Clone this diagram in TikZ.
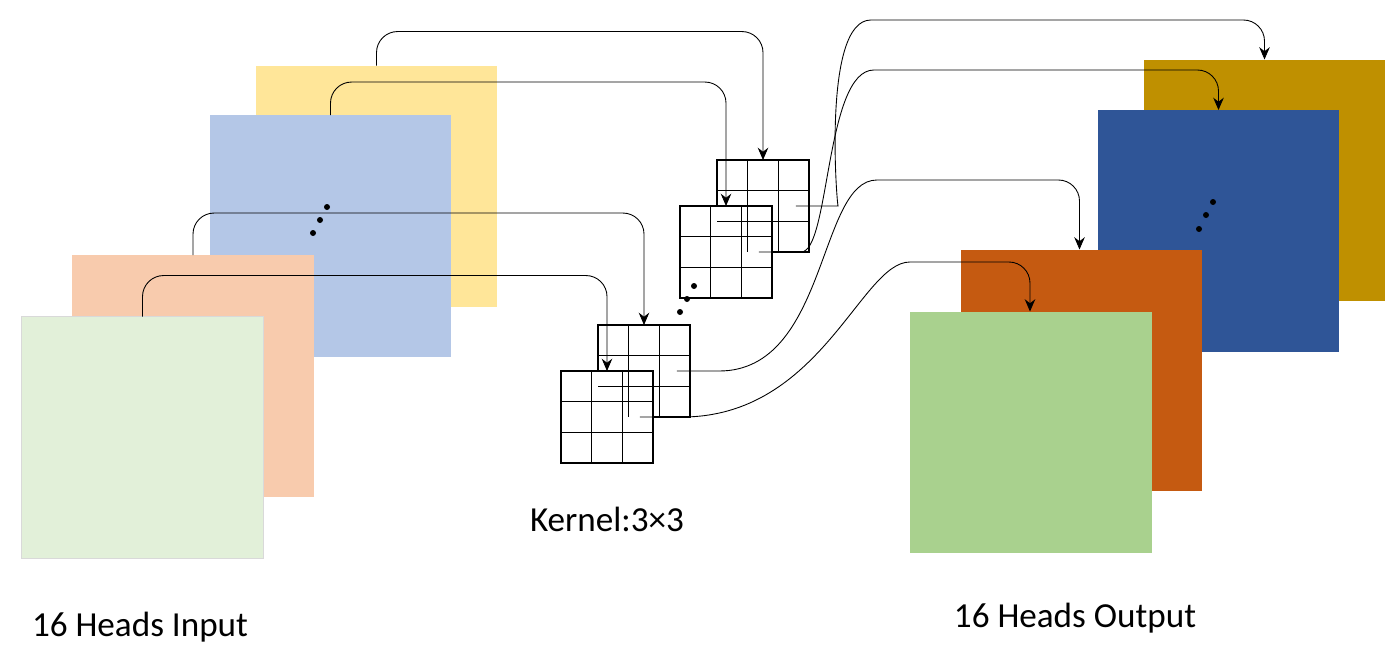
\documentclass[tikz,border=0pt]{standalone}
\usepackage{fontspec}
\setmainfont{Carlito}
\usetikzlibrary{arrows.meta,calc}
\definecolor{cYellow}{HTML}{FFE699}
\definecolor{cBlueL}{HTML}{B4C7E7}
\definecolor{cSalmon}{HTML}{F8CBAD}
\definecolor{cGreenL}{HTML}{E2F0D9}
\definecolor{cGold}{HTML}{BF9000}
\definecolor{cBlueD}{HTML}{2F5597}
\definecolor{cOrange}{HTML}{C55A11}
\definecolor{cGreen}{HTML}{A9D18E}
\tikzset{
  head/.style={minimum size=4.84cm, inner sep=0pt, outer sep=0pt, fill=#1},
  kernel/.style={draw, fill=white, line width=0.6pt, minimum size=1.84cm, inner sep=0pt, outer sep=0pt},
  arr/.style={-{Stealth[length=7pt,width=6pt]}, line width=0.5pt, rounded corners=12},
  caption/.style={font=\fontsize{20}{24}\selectfont}
}
\begin{document}
\begin{tikzpicture}[x=0.02cm,y=-0.02cm]
        \useasboundingbox (0,0) rectangle (1400,656);
        % Input heads
        \node[head=cYellow] (in1) at (376.5,186.5) {};
        \node[head=cBlueL] (in2) at (330.5,236) {};
        \node[head=cSalmon] (in3) at (193,376) {};
        \node[head=cGreenL, draw=black!15] (in4) at (142.5,437.5) {};
        % Output heads
        \node[head=cGold] (out1) at (1264.5,180.5) {};
        \node[head=cBlueD] (out2) at (1218.5,231) {};
        \node[head=cOrange] (out3) at (1081.5,370.5) {};
        \node[head=cGreen] (out4) at (1031,432.5) {};
        % Kernels
        \node[kernel] (k1) at (763,206) {};
        \node[kernel] (k2) at (726,252) {};
        \node[kernel] (k3) at (644,371) {};
        \node[kernel] (k4) at (607,417) {};
        \foreach \k in {k1,k2,k3,k4}
            \foreach \t in {1,2} {
                \draw[line width=0.6pt] ($(\k.north west)!\t/3!(\k.north east)$) -- ($(\k.south west)!\t/3!(\k.south east)$);
                \draw[line width=0.6pt] ($(\k.north west)!\t/3!(\k.south west)$) -- ($(\k.north east)!\t/3!(\k.south east)$);
            }
        % Dots
        \foreach \x/\y in {313/233,320/220,327/207,680/312,687/299,694/286,1199/229,1206/215,1213/202}
            \fill (\x,\y) circle (3);
        % Input to kernels
        \draw[arr] ([xshift=2.42cm]in1.north west) -- ++(0,-34) -| (k1.north);
        \draw[arr] ([xshift=2.42cm]in2.north west) -- ++(0,-33) -| (k2.north);
        \draw[arr] ([xshift=2.42cm]in3.north west) -- ++(0,-42) -| (k3.north);
        \draw[arr] ([xshift=2.42cm]in4.north west) -- ++(0,-41) -| (k4.north);
        % Kernels to output
        \draw[arr] (k1.east) -- ++(8,0) .. controls +(20,0) and +(-70,0) .. ++(75,-186) -| ([xshift=2.42cm]out1.north west);
        \draw[arr] (k2.east) -- ++(8,0) .. controls +(50,0) and +(-70,0) .. ++(115,-182) -| ([xshift=2.42cm]out2.north west);
        \draw[arr] (k3.east) -- ++(8,0) .. controls +(130,0) and +(-80,0) .. ++(200,-191) -| ([xshift=2.38cm]out3.north west);
        \draw[arr] (k4.east) -- ++(8,0) .. controls +(160,0) and +(-70,0) .. ++(270,-155) -| ([xshift=2.4cm]out4.north west);
        % Labels
        \node[caption] (kcap) at (607,519) {Kernel:3×3};
        \node[caption] (incap) at (140,627) {16 Heads Input};
        \node[caption] (outcap) at (1075,618) {16 Heads Output};
\end{tikzpicture}
\end{document}
